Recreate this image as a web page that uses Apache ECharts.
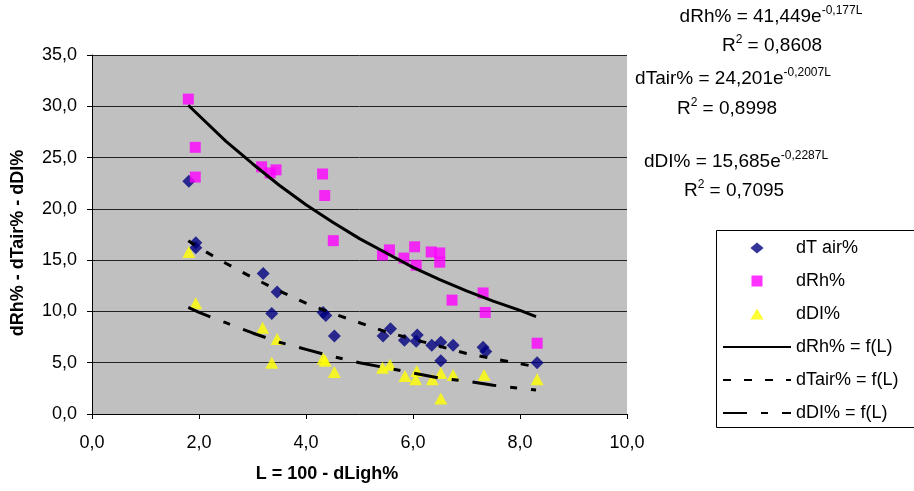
<!DOCTYPE html>
<html>
<head>
<meta charset="utf-8">
<script src="https://cdn.jsdelivr.net/npm/echarts@6/dist/echarts.min.js"></script>
<style>
  html, body { margin: 0; padding: 0; background: #fff; }
  #chart { width: 914px; height: 491px; }
</style>
</head>
<body>
<div id="chart"></div>
<script>
// 测量点 dT air%
var tairL = [1.81, 1.94, 1.94, 3.20, 3.36, 3.46, 4.32, 4.37, 4.53, 5.44, 5.58, 5.84, 6.06, 6.08, 6.35, 6.52, 6.52, 6.75, 7.31, 7.36, 8.32];
var tairVal = [22.7, 16.7, 16.2, 13.7, 9.8, 11.9, 9.9, 9.6, 7.6, 7.6, 8.3, 7.2, 7.1, 7.7, 6.7, 7.0, 5.2, 6.7, 6.5, 6.1, 5.0];
// 测量点 dRh%
var rhL = [1.80, 1.93, 1.93, 3.17, 3.33, 3.44, 4.31, 4.35, 4.51, 5.43, 5.56, 5.83, 6.03, 6.06, 6.34, 6.50, 6.50, 6.73, 7.31, 7.35, 8.32];
var rhVal = [30.7, 26.0, 23.1, 24.1, 23.5, 23.8, 23.4, 21.3, 16.9, 15.5, 16.0, 15.2, 16.3, 14.5, 15.8, 15.7, 14.8, 11.1, 11.8, 9.9, 6.9];
// 测量点 dDI%
var diL = [1.81, 1.94, 3.19, 3.36, 3.46, 4.32, 4.36, 4.53, 5.43, 5.57, 5.85, 6.05, 6.07, 6.36, 6.52, 6.52, 6.75, 7.33, 8.32];
var diVal = [15.8, 10.8, 8.4, 5.0, 7.3, 5.4, 5.2, 4.1, 4.5, 4.8, 3.7, 3.4, 4.2, 3.4, 4.0, 1.5, 3.8, 3.8, 3.4];
// 趋势线
var trendL = [1.8, 2, 2.5, 3, 3.5, 4, 4.5, 5, 5.5, 6, 6.5, 7, 7.5, 8, 8.3];
var rhFit = [30.1, 29.1, 26.6, 24.4, 22.3, 20.4, 18.7, 17.1, 15.7, 14.3, 13.1, 12.0, 11.0, 10.1, 9.5];
var tairFit = [16.9, 16.2, 14.7, 13.3, 12.0, 10.8, 9.8, 8.9, 8.0, 7.3, 6.6, 5.9, 5.4, 4.9, 4.6];
var diFit = [10.4, 9.9, 8.9, 7.9, 7.0, 6.3, 5.6, 5.0, 4.5, 4.0, 3.5, 3.2, 2.8, 2.5, 2.35];
// 轴刻度
var yMin = 0, yMax = 35, yStep = 5;
var xMin = 0, xMax = 10, xStep = 2;

var FONT = "'Liberation Sans', Arial, sans-serif";

function pairs(xs, ys) {
  return xs.map(function (x, i) { return [x, ys[i]]; });
}
function comma(v) {
  return v.toFixed(1).replace('.', ',');
}

var richEq = {
  a: { fontSize: 19, fontFamily: FONT, color: '#000', lineHeight: 24 },
  s: { fontSize: 12, fontFamily: FONT, color: '#000', verticalAlign: 'top', lineHeight: 24 }
};
function eqText(str, x, y) {
  return {
    type: 'text',
    x: x,
    y: y,
    style: {
      text: str,
      rich: richEq,
      align: 'center',
      verticalAlign: 'middle'
    }
  };
}

var chart = echarts.init(document.getElementById('chart'));
chart.setOption({
  animation: false,
  grid: {
    left: 92,
    top: 55,
    right: 287,
    bottom: 77,
    show: true,
    backgroundColor: '#C0C0C0',
    borderWidth: 0
  },
  xAxis: {
    type: 'value',
    min: xMin,
    max: xMax,
    interval: xStep,
    axisLine: { show: true, onZero: false, lineStyle: { color: '#000', width: 1 } },
    axisTick: { show: true, length: 5, lineStyle: { color: '#000' } },
    splitLine: { show: false },
    axisLabel: { margin: 20, fontSize: 18, fontFamily: FONT, color: '#000', formatter: comma }
  },
  yAxis: {
    type: 'value',
    min: yMin,
    max: yMax,
    interval: yStep,
    axisLine: { show: true, lineStyle: { color: '#000', width: 1 } },
    axisTick: { show: true, length: 5, lineStyle: { color: '#000' } },
    splitLine: { show: true, lineStyle: { color: '#222', width: 1 } },
    axisLabel: { margin: 15, fontSize: 18, fontFamily: FONT, color: '#000', formatter: comma }
  },
  legend: {
    orient: 'vertical',
    left: 722,
    top: 239,
    padding: 0,
    itemWidth: 68,
    itemHeight: 11,
    itemGap: 15,
    selectedMode: false,
    textStyle: { fontSize: 18, fontFamily: FONT, color: '#000' },
    data: [
      { name: 'dT air%', icon: 'path://M0,-5L6,0L0,5L-6,0Z' },
      { name: 'dRh%', icon: 'path://M0,0H10V10H0Z' },
      { name: 'dDI%', icon: 'path://M0,-5L6,5L-6,5Z' },
      { name: 'dRh% = f(L)', itemStyle: { opacity: 0 } },
      { name: 'dTair% = f(L)', itemStyle: { opacity: 0 } },
      { name: 'dDI% = f(L)', itemStyle: { opacity: 0 } }
    ]
  },
  graphic: [
    { type: 'rect', shape: { x: 716.5, y: 230.5, width: 220, height: 197 },
      style: { fill: '#fff', stroke: '#000', lineWidth: 1 }, z: -1 },
    { type: 'text', x: 327, y: 474,
      style: { text: 'L = 100 - dLigh%', font: 'bold 18px ' + FONT, fill: '#000', align: 'center', verticalAlign: 'middle' } },
    { type: 'text', x: 18, y: 243, rotation: Math.PI / 2,
      style: { text: 'dRh% - dTair% - dDI%', font: 'bold 18px ' + FONT, fill: '#000', align: 'center', verticalAlign: 'middle' } },
    eqText('{a|dRh% = 41,449e}{s|-0,177L}', 771, 17),
    eqText('{a|R}{s|2}{a| = 0,8608}', 772, 46),
    eqText('{a|dTair% = 24,201e}{s|-0,2007L}', 733, 79),
    eqText('{a|R}{s|2}{a| = 0,8998}', 727, 109),
    eqText('{a|dDI% = 15,685e}{s|-0,2287L}', 736, 162),
    eqText('{a|R}{s|2}{a| = 0,7095}', 734, 191)
  ],
  series: [
    {
      name: 'dT air%',
      type: 'scatter',
      symbol: 'diamond',
      symbolSize: [13, 13],
      itemStyle: { color: '#000080' },
      data: pairs(tairL, tairVal)
    },
    {
      name: 'dRh%',
      type: 'scatter',
      symbol: 'rect',
      symbolSize: 11,
      itemStyle: { color: '#FF00FF' },
      data: pairs(rhL, rhVal)
    },
    {
      name: 'dDI%',
      type: 'scatter',
      symbol: 'triangle',
      symbolSize: [13, 12],
      itemStyle: { color: '#FFFF00' },
      data: pairs(diL, diVal)
    },
    {
      name: 'dRh% = f(L)',
      type: 'line',
      symbol: 'none',
      z: 4,
      itemStyle: { color: '#000', opacity: 0 },
      lineStyle: { color: '#000', width: 3 },
      data: pairs(trendL, rhFit)
    },
    {
      name: 'dTair% = f(L)',
      type: 'line',
      symbol: 'none',
      z: 4,
      itemStyle: { color: '#000', opacity: 0 },
      lineStyle: { color: '#000', width: 3, type: [8, 13] },
      data: pairs(trendL, tairFit)
    },
    {
      name: 'dDI% = f(L)',
      type: 'line',
      symbol: 'none',
      z: 4,
      itemStyle: { color: '#000', opacity: 0 },
      lineStyle: { color: '#000', width: 3, type: [24, 14, 7, 14] },
      data: pairs(trendL, diFit)
    }
  ]
});
</script>
</body>
</html>
